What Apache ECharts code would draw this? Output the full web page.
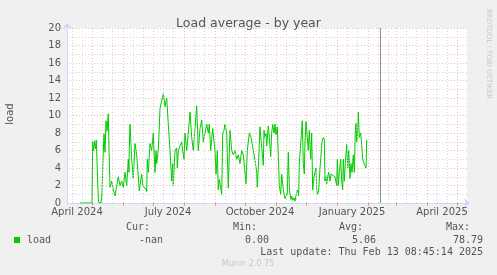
<!DOCTYPE html>
<html>
<head>
<meta charset="utf-8">
<script src="https://cdn.jsdelivr.net/npm/echarts@6/dist/echarts.min.js"></script>
<style>
  html, body { margin: 0; padding: 0; background: #f0f0f0; }
  #chart { width: 497px; height: 275px; }
</style>
</head>
<body>
<div id="chart"></div>
<script>
// x values are days counted from 1 April 2024
var loadDays = [18, 30, 30.7, 31.5, 32.5, 33.3, 34.3, 35.5, 36.5, 38, 39, 40, 41, 42, 43, 44, 45, 46.3, 47, 48,
  49.7, 51.3, 53, 54.7, 56.3, 58, 59.7, 61.3, 63, 64.7, 66.3, 67, 67.3, 68, 69.7, 71.3, 73, 74, 74.7, 76.3,
  77.3, 78, 79.7, 80.7, 83, 84.7, 85.3, 86.3, 88, 89.7, 91.3, 93, 94, 94.7, 96.3, 98, 99.7, 101.3, 103, 104.7,
  106.3, 108, 109.7, 110.7, 111.3, 113, 114.7, 115.3, 116.3, 118, 119.7, 120.7, 122, 123, 124.7, 126.3, 128, 129.7, 131.3, 133,
  134.7, 136.3, 138, 139.7, 141.3, 143, 144.7, 146.3, 147.3, 148.7, 150.7, 153, 154, 154.7, 155.3, 156.3, 157.3, 158.7, 159.7, 160.7,
  162, 163, 164.7, 166.3, 168, 169.7, 171.3, 173, 174.7, 176.3, 178, 179.7, 181.3, 184, 185.3, 187.3, 189, 191.3, 193, 194.7,
  195.3, 196.3, 198, 199.7, 201.3, 202, 203, 204, 204.7, 206.3, 207.3, 208.7, 209.7, 210.7, 212, 213, 214, 215.3, 216.3, 217.3,
  218.7, 219.7, 220.7, 221.3, 223, 224, 225.3, 226.3, 227.3, 228, 229, 229.7, 230.7, 232, 233, 234.7, 235.7, 236.7, 237.3, 238.7,
  240.3, 241.3, 242.3, 243, 244, 245.3, 246.3, 247.3, 248.7, 249.7, 250.7, 252, 253, 254, 254.7, 255.7, 256.7, 258, 259, 260,
  261.3, 262.3, 263, 264, 264.7, 265.7, 266.7, 268, 269, 270.7, 273, 274.7, 275.3, 276.3, 277.3, 278.7, 279.7, 280.7, 281.3, 282.3,
  283.3, 284.7, 285.7, 286.7, 288, 289, 290, 291.3, 292.3, 293.3, 294, 294.7, 295.3, 296.3, 297.3, 298.7, 299.7, 300.7, 302, 303,
  304, 304.7];
var loadValues = [0, 0, 7.0, 6.0, 7.1, 6.2, 7.2, 3.0, 0.1, 0.3, 0, 1.2, 5.0, 7.9, 5.8, 9.4, 8.2, 10.2, 6.0, 1.8,
  2.5, 1.5, 0.8, 1.0, 3.0, 2.0, 2.5, 1.8, 3.5, 2.0, 5.0, 3.5, 6.5, 9.0, 5.0, 2.8, 6.8, 7.0, 5.5, 5.5,
  1.4, 2.0, 3.3, 2.0, 1.7, 1.3, 5.0, 3.5, 6.8, 6.0, 8.0, 3.5, 6.0, 4.5, 6.0, 10.8, 11.0, 12.5, 11.0, 12.0,
  9.0, 6.0, 2.5, 4.5, 2.0, 6.0, 6.3, 4.0, 6.0, 6.5, 7.0, 6.0, 5.0, 8.0, 6.0, 8.0, 10.4, 7.5, 6.0, 8.5,
  11.1, 6.0, 8.5, 9.5, 7.0, 8.0, 9.0, 8.0, 9.0, 6.0, 8.5, 6.0, 3.3, 4.5, 6.0, 1.5, 2.7, 2.8, 1.0, 8.0,
  8.3, 9.0, 8.0, 1.7, 8.3, 6.0, 5.5, 6.0, 5.0, 5.5, 4.5, 6.0, 5.5, 2.2, 6.0, 8.0, 7.5, 6.0, 4.9, 3.5,
  1.8, 4.0, 8.7, 6.4, 4.3, 8.3, 7.5, 8.0, 6.5, 8.8, 7.5, 5.3, 8.0, 9.0, 8.0, 9.0, 7.8, 8.7, 5.5, 2.0,
  1.0, 3.3, 3.4, 1.5, 0.5, 0.5, 1.0, 5.8, 2.0, 1.0, 0.4, 0.8, 0.3, 0.6, 0.2, 1.2, 1.5, 0.8, 4.5, 4.5,
  9.4, 4.5, 3.3, 7.0, 9.3, 7.5, 6.0, 8.3, 5.0, 8.0, 1.5, 3.0, 3.5, 4.0, 1.5, 1.0, 1.5, 4.0, 5.5, 7.0,
  7.5, 7.2, 2.5, 3.0, 2.2, 3.0, 3.5, 2.5, 3.3, 3.3, 3.0, 2.0, 5.0, 2.0, 3.5, 5.0, 2.5, 1.5, 5.0, 2.5,
  4.5, 6.7, 4.0, 6.0, 2.8, 4.5, 3.5, 5.5, 3.5, 8.3, 9.1, 7.0, 7.5, 10.4, 7.5, 8.0, 6.7, 5.0, 4.5, 4.7,
  4.0, 7.2];

// month starts (major grid), minor grid, labels (centred in the month)
var monthStarts = [30, 61, 91, 122, 153, 183, 214, 244, 275, 306, 334, 365, 395];
var minorDays = [10, 20, 40, 50, 71, 81, 101, 111, 132, 142, 163, 173, 193, 203, 224, 234, 254, 264,
  285, 295, 316, 326, 344, 354, 375, 385];
var labelDays = [15, 106, 198, 290, 380];
var labelTexts = ['April 2024', 'July 2024', 'October 2024', 'January 2025', 'April 2025'];
var nowDay = 318; // Thu Feb 13 2025

var legendHeads = ['Cur:', 'Min:', 'Avg:', 'Max:'];
var legendValues = ['-nan', '0.00', '5.06', '78.79'];
var lastUpdate = 'Last update: Thu Feb 13 08:45:14 2025';

var chart = echarts.init(document.getElementById('chart'));

var points = [];
for (var i = 0; i < loadDays.length; i++) {
  points.push([loadDays[i], loadValues[i]]);
}

var majorColor = 'rgba(232,96,79,0.42)';
var minorColor = '#d4d4d4';

var gridLines = [];
minorDays.forEach(function (d) {
  gridLines.push({ xAxis: d, lineStyle: { color: minorColor, type: [1, 2], width: 1 } });
});
monthStarts.forEach(function (d) {
  gridLines.push({ xAxis: d, lineStyle: { color: majorColor, type: [1, 2], width: 1 } });
});
gridLines.push({ xAxis: nowDay, lineStyle: { color: '#909090', type: 'solid', width: 1 } });

var mono = 'DejaVu Sans Mono';
var textColor = '#555';
var legendGraphics = [
  { type: 'rect', shape: { x: 14, y: 237, width: 6, height: 6 }, style: { fill: '#00cc00' } },
  { type: 'text', x: 27, y: 240, style: { text: 'load', font: '10px ' + mono, fill: textColor, align: 'left', verticalAlign: 'middle' } }
];
var headRight = [150, 257, 363, 470];
var valueRight = [163, 269, 376, 483];
for (var k = 0; k < legendHeads.length; k++) {
  legendGraphics.push({ type: 'text', x: headRight[k], y: 227, style: { text: legendHeads[k], font: '10px ' + mono, fill: textColor, align: 'right', verticalAlign: 'middle' } });
  legendGraphics.push({ type: 'text', x: valueRight[k], y: 240, style: { text: legendValues[k], font: '10px ' + mono, fill: textColor, align: 'right', verticalAlign: 'middle' } });
}
legendGraphics.push({ type: 'text', x: 483, y: 252, style: { text: lastUpdate, font: '10px ' + mono, fill: textColor, align: 'right', verticalAlign: 'middle' } });
legendGraphics.push({ type: 'text', x: 248, y: 264, style: { text: 'Munin 2.0.75', font: '8px DejaVu Sans', fill: '#c8c8c8', align: 'center', verticalAlign: 'middle' } });
legendGraphics.push({ type: 'text', x: 10, y: 114, rotation: Math.PI / 2, style: { text: 'load', font: '10px DejaVu Sans', fill: textColor, align: 'center', verticalAlign: 'middle' } });
legendGraphics.push({ type: 'text', x: 489, y: 54, rotation: -Math.PI / 2, style: { text: 'RRDTOOL / TOBI OETIKER', font: '7px DejaVu Sans', fill: '#c8c8c8', align: 'center', verticalAlign: 'middle' } });

var option = {
  backgroundColor: '#f0f0f0',
  animation: false,
  title: {
    text: 'Load average - by year',
    left: 'center',
    top: 12,
    textStyle: { fontFamily: 'DejaVu Sans', fontSize: 12.5, fontWeight: 'normal', color: textColor }
  },
  grid: {
    left: 67, top: 28, width: 400, height: 175,
    show: true, backgroundColor: '#ffffff', borderWidth: 0
  },
  xAxis: {
    type: 'value',
    min: 5,
    max: 405,
    axisLine: {
      lineStyle: { color: '#cfd6f8' },
      symbol: ['none', 'arrow'],
      symbolSize: [7, 6],
      symbolOffset: [0, 3]
    },
    axisTick: {
      customValues: monthStarts,
      length: 3,
      lineStyle: { color: 'rgba(232,96,79,0.6)' }
    },
    splitLine: { show: false },
    axisLabel: {
      customValues: labelDays,
      margin: 4,
      fontFamily: 'DejaVu Sans',
      fontSize: 10,
      color: textColor,
      formatter: function (v) {
        var idx = labelDays.indexOf(Math.round(v));
        return idx >= 0 ? labelTexts[idx] : '';
      }
    }
  },
  yAxis: {
    type: 'value',
    min: 0,
    max: 20,
    interval: 2,
    axisLine: {
      show: true,
      lineStyle: { color: '#cfd6f8' },
      symbol: ['none', 'arrow'],
      symbolSize: [7, 6],
      symbolOffset: [0, 5]
    },
    axisTick: { show: false },
    axisLabel: { margin: 6, fontFamily: 'DejaVu Sans', fontSize: 10, color: textColor },
    splitLine: { lineStyle: { color: majorColor, type: [1, 2] } },
    minorTick: { show: false, splitNumber: 2 },
    minorSplitLine: { show: true, lineStyle: { color: minorColor, type: [1, 2] } }
  },
  graphic: legendGraphics,
  series: [
    {
      type: 'line',
      data: [],
      silent: true,
      z: 1,
      markLine: {
        silent: true,
        symbol: ['none', 'none'],
        label: { show: false },
        emphasis: { disabled: true },
        data: gridLines
      }
    },
    {
      name: 'load',
      type: 'line',
      data: points,
      z: 3,
      showSymbol: false,
      lineStyle: { color: '#00cc00', width: 1 },
      itemStyle: { color: '#00cc00' }
    }
  ]
};
chart.setOption(option);
</script>
</body>
</html>
